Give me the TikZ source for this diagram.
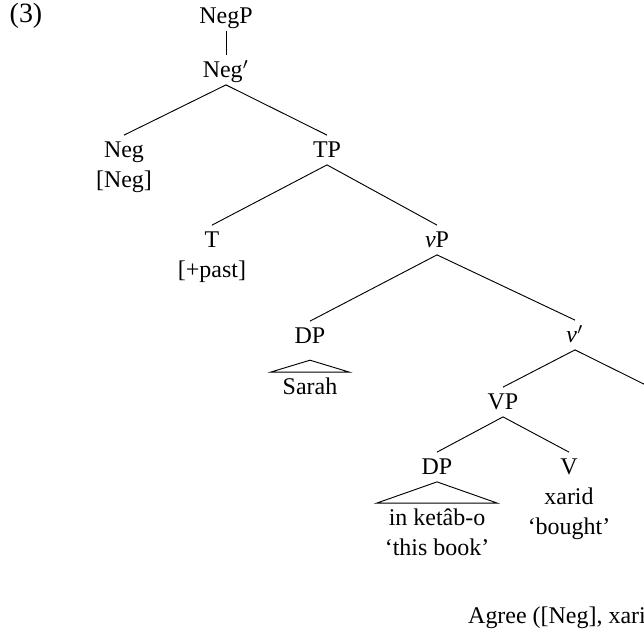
\documentclass[tikz,border=0pt]{standalone}
\usepackage{fontspec}
\setmainfont{Liberation Serif}
\usetikzlibrary{positioning}

\begin{document}
\begin{tikzpicture}[x=0.43pt, y=-0.43pt, font=\fontsize{10.3}{12.4}\selectfont]
    \tikzset{
        cat/.style = {inner xsep=1pt, inner ysep=2.8pt, text height=6.8pt, text depth=0pt, node distance=0pt},
        leaf/.style = {cat, inner xsep=5pt},
    }
    \useasboundingbox (0,0) rectangle (644,632);
    \clip (0,0) rectangle (644,632);

    \node [cat,font=\large] (ex) at (26,15) {(3)};

    \node [cat] (negp) at (226,16) {NegP};
    \node [cat] (negbar) at (226,70) {Neg$'$};

    \node [cat] (neg) at (124,150) {Neg};
    \node [cat,below=of neg] (negf) {[Neg]};
    \node [cat] (tp) at (327,150) {TP};

    \node [cat] (t) at (212,240) {T};
    \node [cat,below=of t] (tf) {[+past]};
    \node [cat] (vp) at (437,240) {\textit{v}P};

    \node [cat] (dp1) at (310,336) {DP};
    \node [leaf] (sarah) at (310,387) {Sarah};
    \node [cat] (vbar) at (575,335) {\textit{v}$'$};

    \node [cat] (vpp) at (503,402) {VP};
    \node [cat] (v) at (650,402) {\textit{v}};

    \node [cat] (dp2) at (437,467) {DP};
    \node [leaf] (ketab) at (437,518) {in ketâb-o};
    \node [cat,below=of ketab] (book) {‘this book’};
    \node [cat] (verb) at (569,467) {V};
    \node [cat,below=of verb] (xarid) {xarid};
    \node [cat,below=of xarid] (bought) {‘bought’};

    \node [anchor=base west] (agree) at (460,623) {Agree ([Neg], xarid)};

    \draw (negp) -- (negbar);
    \draw (negbar.south) -- (neg.north);
    \draw (negbar.south) -- (tp.north);
    \draw (tp.south) -- (t.north);
    \draw (tp.south) -- (vp.north);
    \draw (vp.south) -- (dp1.north);
    \draw (vp.south) -- (vbar.north);
    \draw ([yshift=-4pt]dp1.south) -- (sarah.north west) -- (sarah.north east) -- cycle;
    \draw (vbar.south) -- (vpp.north);
    \draw (vbar.south) -- (v.north);
    \draw (vpp.south) -- (dp2.north);
    \draw (vpp.south) -- (verb.north);
    \draw (dp2.south) -- (ketab.north west) -- (ketab.north east) -- cycle;
\end{tikzpicture}
\end{document}
